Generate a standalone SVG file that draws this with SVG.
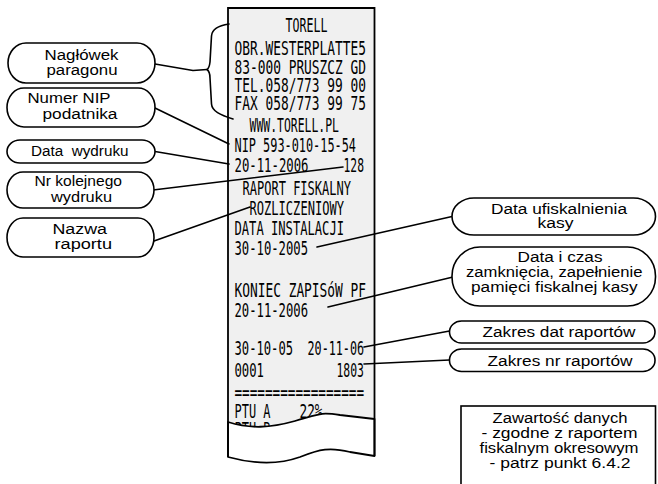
<svg xmlns="http://www.w3.org/2000/svg" width="658" height="484" viewBox="0 0 658 484">
<style>
.lbl{fill:#fff;stroke:#000;stroke-width:1.6}
.t{font-family:"Liberation Sans",Arial,sans-serif;font-size:15.5px;fill:#000}
.r{font-family:"DejaVu Sans Mono","Liberation Mono",monospace;font-size:20px;fill:#000}
.c{fill:none;stroke:#000;stroke-width:1.6;stroke-linecap:round;stroke-linejoin:round}
</style>
<rect width="658" height="484" fill="#fff"/>
<g id="receipt">
<rect x="228" y="8" width="146.5" height="432" fill="#f0f0f0"/>
<g class="r">
<text x="285.5" y="32" textLength="42" lengthAdjust="spacingAndGlyphs">TORELL</text>
<text x="234.5" y="55" textLength="131.5" lengthAdjust="spacingAndGlyphs">OBR.WESTERPLATTE5</text>
<text x="234.5" y="73.5" textLength="131.5" lengthAdjust="spacingAndGlyphs">83-000 PRUSZCZ GD</text>
<text x="234.5" y="92" textLength="131.5" lengthAdjust="spacingAndGlyphs">TEL.058/773 99 00</text>
<text x="234.5" y="110" textLength="131.5" lengthAdjust="spacingAndGlyphs">FAX 058/773 99 75</text>
<text x="249.5" y="132" textLength="89.5" lengthAdjust="spacingAndGlyphs">WWW.TORELL.PL</text>
<text x="234.5" y="152" textLength="121.5" lengthAdjust="spacingAndGlyphs">NIP 593-010-15-54</text>
<text x="234.5" y="172" textLength="74" lengthAdjust="spacingAndGlyphs">20-11-2006</text>
<text x="343.5" y="172" textLength="20.5" lengthAdjust="spacingAndGlyphs">128</text>
<text x="242.5" y="195" textLength="108.5" lengthAdjust="spacingAndGlyphs">RAPORT FISKALNY</text>
<text x="249.5" y="215" textLength="94.5" lengthAdjust="spacingAndGlyphs">ROZLICZENIOWY</text>
<text x="234.5" y="235" textLength="109.5" lengthAdjust="spacingAndGlyphs">DATA INSTALACJI</text>
<text x="234.5" y="255" textLength="73.5" lengthAdjust="spacingAndGlyphs">30-10-2005</text>
<text x="234.5" y="297" textLength="131.5" lengthAdjust="spacingAndGlyphs">KONIEC ZAPISóW PF</text>
<text x="234.5" y="317" textLength="73.5" lengthAdjust="spacingAndGlyphs">20-11-2006</text>
<text x="234.5" y="355" textLength="58.5" lengthAdjust="spacingAndGlyphs">30-10-05</text>
<text x="307.5" y="355" textLength="56.5" lengthAdjust="spacingAndGlyphs">20-11-06</text>
<text x="234.5" y="377" textLength="29.5" lengthAdjust="spacingAndGlyphs">0001</text>
<text x="336.5" y="377" textLength="27.5" lengthAdjust="spacingAndGlyphs">1803</text>
<text x="234.5" y="399" textLength="129.5" lengthAdjust="spacingAndGlyphs">=================</text>
<text x="234.5" y="418" textLength="36" lengthAdjust="spacingAndGlyphs">PTU A</text>
<text x="299.5" y="418" textLength="23" lengthAdjust="spacingAndGlyphs">22%</text>
<text x="234.5" y="436" textLength="36" lengthAdjust="spacingAndGlyphs">PTU B</text>
</g>
<path d="M228,422 C250,429 270,428 295,421 S320,412 340,415 L374.5,419 L374.5,456 L350,452 C330,447 320,449 300,457 C275,466 250,463 228,457 Z" fill="#fff" stroke="#000" stroke-width="1.8" stroke-linejoin="round"/>
<path d="M228,457 L228,8 L374.5,8 L374.5,456" fill="none" stroke="#000" stroke-width="1.8"/>
</g>
<g id="connectors" class="c">
<path d="M155,64 L193,70.5 L207,69.5"/>
<path d="M229,24 C218,26 212,29 211.5,36 L210,62 C209.5,66.5 208.5,68.5 207,69.5 C209,71 210,73 210,78 L211.5,104 C212,111 220,115 233,119"/>
<path d="M155,108 L229,144"/>
<path d="M155,151.5 L229,164"/>
<path d="M153,190 L343,167"/>
<path d="M154,241 L250,207"/>
<path d="M317,247 L452,216.5"/>
<path d="M328,307 L453,277"/>
<path d="M364,347 L449.5,331"/>
<path d="M364,364 L449.5,360"/>
</g>
<g id="naglowek">
<rect class="lbl" x="8" y="43" width="147" height="40" rx="18" ry="20"/>
<text class="t" x="44.5" y="60" textLength="74" lengthAdjust="spacingAndGlyphs">Nagłówek</text>
<text class="t" x="46.5" y="74.5" textLength="71" lengthAdjust="spacingAndGlyphs">paragonu</text>
</g>
<g id="nip">
<rect class="lbl" x="7" y="88" width="148" height="39" rx="17" ry="19.5"/>
<text class="t" x="27.5" y="102.5" textLength="83" lengthAdjust="spacingAndGlyphs">Numer NIP</text>
<text class="t" x="42.5" y="118.5" textLength="75" lengthAdjust="spacingAndGlyphs">podatnika</text>
</g>
<g id="data-wydruku">
<rect class="lbl" x="7" y="140" width="148" height="23" rx="13" ry="11.5"/>
<text class="t" x="31" y="156" textLength="97.5" lengthAdjust="spacingAndGlyphs" xml:space="preserve">Data  wydruku</text>
</g>
<g id="nr-kolejnego">
<rect class="lbl" x="7" y="172" width="147" height="36" rx="16" ry="18"/>
<text class="t" x="34.5" y="186" textLength="87.5" lengthAdjust="spacingAndGlyphs">Nr kolejnego</text>
<text class="t" x="51" y="201.5" textLength="61" lengthAdjust="spacingAndGlyphs">wydruku</text>
</g>
<g id="nazwa-raportu">
<rect class="lbl" x="7" y="218" width="147" height="39" rx="16" ry="19.5"/>
<text class="t" x="52.5" y="234" textLength="54.5" lengthAdjust="spacingAndGlyphs">Nazwa</text>
<text class="t" x="54.5" y="248.5" textLength="57.5" lengthAdjust="spacingAndGlyphs">raportu</text>
</g>
<g id="data-ufiskalnienia">
<rect class="lbl" x="452" y="198" width="203.5" height="37" rx="22" ry="18.5"/>
<text class="t" x="491" y="213.5" textLength="136" lengthAdjust="spacingAndGlyphs">Data ufiskalnienia</text>
<text class="t" x="537.5" y="227.5" textLength="36" lengthAdjust="spacingAndGlyphs">kasy</text>
</g>
<g id="data-i-czas">
<rect class="lbl" x="452" y="247" width="203.5" height="59" rx="28" ry="29"/>
<text class="t" x="517.5" y="261.5" textLength="85" lengthAdjust="spacingAndGlyphs">Data i czas</text>
<text class="t" x="466" y="277" textLength="176.5" lengthAdjust="spacingAndGlyphs">zamknięcia, zapełnienie</text>
<text class="t" x="471" y="291.5" textLength="166.5" lengthAdjust="spacingAndGlyphs">pamięci fiskalnej kasy</text>
</g>
<g id="zakres-dat">
<rect class="lbl" x="449.5" y="321" width="205.5" height="22" rx="12" ry="11"/>
<text class="t" x="482.5" y="337" textLength="153" lengthAdjust="spacingAndGlyphs">Zakres dat raportów</text>
</g>
<g id="zakres-nr">
<rect class="lbl" x="449.5" y="349" width="205.5" height="22.5" rx="12" ry="11"/>
<text class="t" x="487.5" y="365.5" textLength="145" lengthAdjust="spacingAndGlyphs">Zakres nr raportów</text>
</g>
<g id="zawartosc">
<rect x="461" y="406" width="194.5" height="90" fill="#fff" stroke="#000" stroke-width="1.6"/>
<text class="t" x="492.5" y="422.5" textLength="135" lengthAdjust="spacingAndGlyphs">Zawartość danych</text>
<text class="t" x="481.5" y="437.5" textLength="156" lengthAdjust="spacingAndGlyphs">- zgodne z raportem</text>
<text class="t" x="479.5" y="452.5" textLength="159" lengthAdjust="spacingAndGlyphs">fiskalnym okresowym</text>
<text class="t" x="489.5" y="468" textLength="141" lengthAdjust="spacingAndGlyphs">- patrz punkt 6.4.2</text>
</g>
</svg>
